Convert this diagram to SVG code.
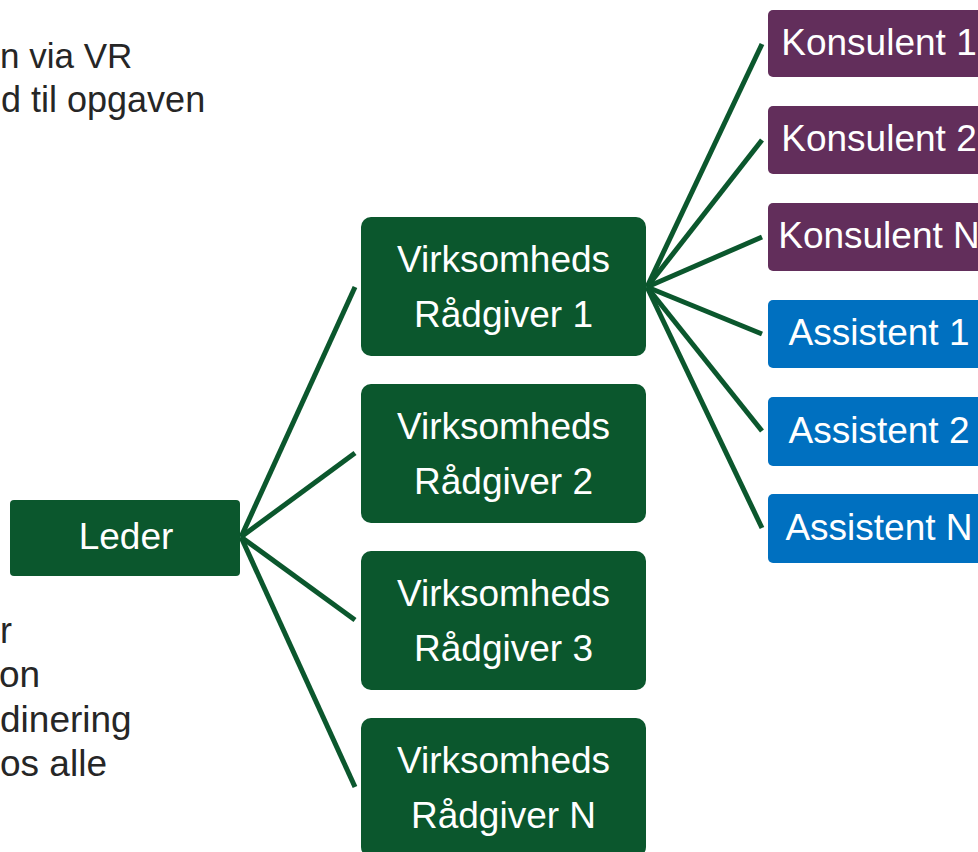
<svg xmlns="http://www.w3.org/2000/svg" width="978" height="852" viewBox="0 0 978 852">
<style>
.g{fill:#0b572d}
.p{fill:#622e5b}
.b{fill:#0070c0}
.t{font-family:"Liberation Sans",Arial,sans-serif;font-size:37px;fill:#ffffff;text-anchor:middle}
.side{font-family:"Liberation Sans",Arial,sans-serif;font-size:36px;fill:#262626;text-anchor:start}
.c line{stroke:#0b572d;stroke-width:5;stroke-linecap:butt}
</style>
<rect width="978" height="852" fill="#ffffff"/>
<g id="side-text-top">
<text class="side" x="0" y="68" style="font-size:35px">n via VR</text>
<text class="side" x="1" y="112">d til opgaven</text>
</g>
<g id="side-text-bottom">
<text class="side" x="0" y="643">r</text>
<text class="side" x="-1" y="687" style="font-size:37px">on</text>
<text class="side" x="0" y="732" style="font-size:37px">dinering</text>
<text class="side" x="0" y="776" style="font-size:37px">os alle</text>
</g>
<g id="connectors" class="c">
<line x1="241" y1="537" x2="355" y2="287"/>
<line x1="241" y1="537" x2="355" y2="453"/>
<line x1="241" y1="537" x2="355" y2="620"/>
<line x1="241" y1="537" x2="355" y2="787"/>
<line x1="647" y1="287" x2="762" y2="44"/>
<line x1="647" y1="287" x2="762" y2="140"/>
<line x1="647" y1="287" x2="762" y2="237"/>
<line x1="647" y1="287" x2="762" y2="334"/>
<line x1="647" y1="287" x2="762" y2="431"/>
<line x1="647" y1="287" x2="762" y2="528"/>
</g>
<g id="leder">
<rect class="g" x="10" y="500" width="230" height="76" rx="4"/>
<text class="t" x="126" y="549">Leder</text>
</g>
<g id="vr1">
<rect class="g" x="361" y="217" width="285" height="139" rx="10"/>
<text class="t" x="503.5" y="272">Virksomheds</text>
<text class="t" x="503.5" y="327">Rådgiver 1</text>
</g>
<g id="vr2">
<rect class="g" x="361" y="384" width="285" height="139" rx="10"/>
<text class="t" x="503.5" y="439">Virksomheds</text>
<text class="t" x="503.5" y="494">Rådgiver 2</text>
</g>
<g id="vr3">
<rect class="g" x="361" y="551" width="285" height="139" rx="10"/>
<text class="t" x="503.5" y="606">Virksomheds</text>
<text class="t" x="503.5" y="661">Rådgiver 3</text>
</g>
<g id="vrn">
<rect class="g" x="361" y="718" width="285" height="139" rx="10"/>
<text class="t" x="503.5" y="773">Virksomheds</text>
<text class="t" x="503.5" y="828">Rådgiver N</text>
</g>
<g id="konsulent1">
<rect class="p" x="768" y="10" width="230" height="67" rx="5"/>
<text class="t" x="879" y="55">Konsulent 1</text>
</g>
<g id="konsulent2">
<rect class="p" x="768" y="106" width="230" height="68" rx="5"/>
<text class="t" x="879" y="151">Konsulent 2</text>
</g>
<g id="konsulentn">
<rect class="p" x="768" y="203" width="230" height="68" rx="5"/>
<text class="t" x="879" y="248">Konsulent N</text>
</g>
<g id="assistent1">
<rect class="b" x="768" y="300" width="230" height="68" rx="5"/>
<text class="t" x="879" y="345">Assistent 1</text>
</g>
<g id="assistent2">
<rect class="b" x="768" y="397" width="230" height="69" rx="5"/>
<text class="t" x="879" y="443">Assistent 2</text>
</g>
<g id="assistentn">
<rect class="b" x="768" y="494" width="230" height="69" rx="5"/>
<text class="t" x="879" y="540">Assistent N</text>
</g>
</svg>
